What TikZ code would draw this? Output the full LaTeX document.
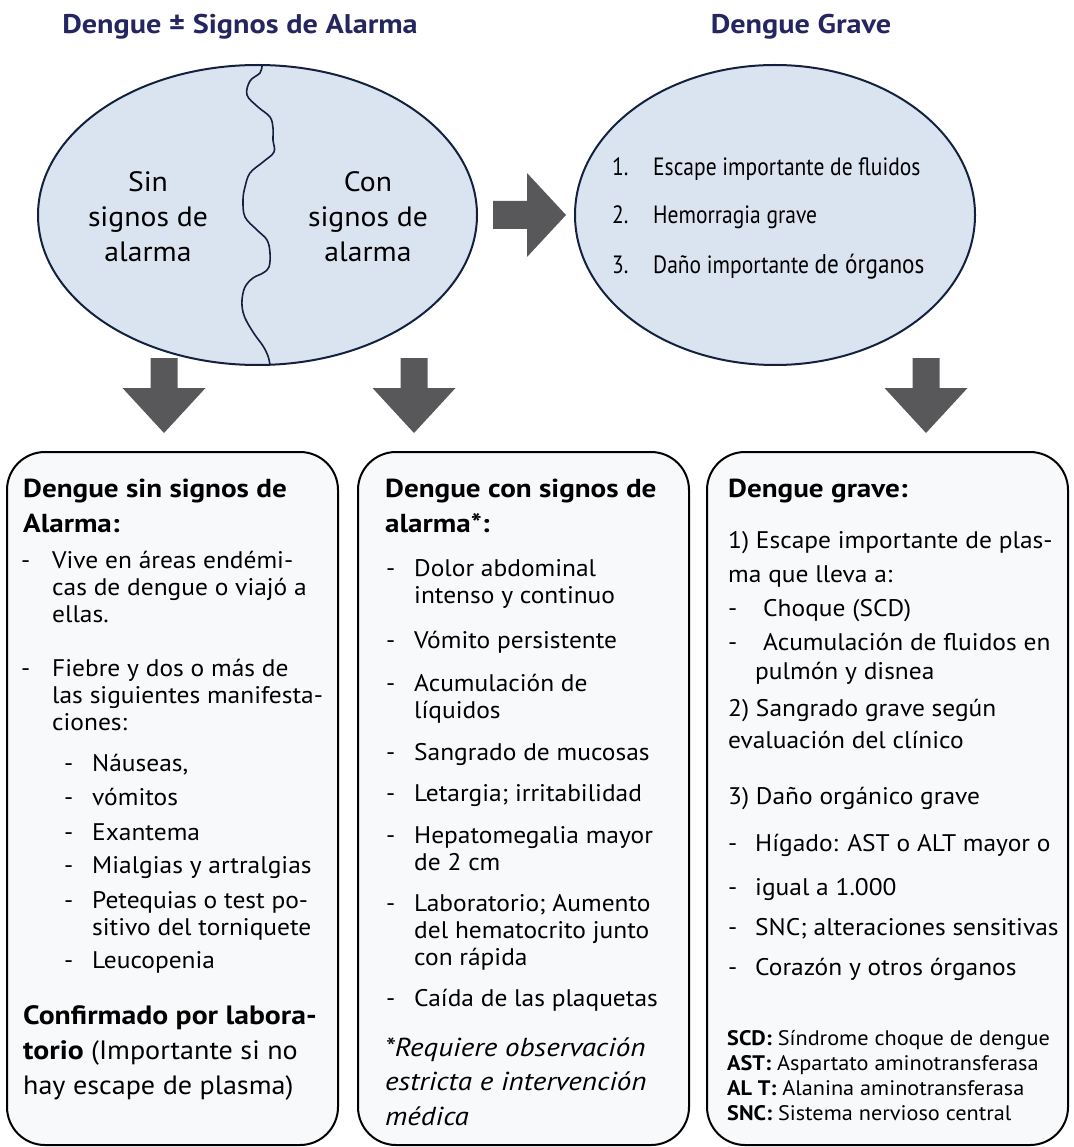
\documentclass[tikz,border=0pt]{standalone}
\usepackage{fontspec}
\setmainfont{PT Sans}[FakeStretch=1.06]
\newfontfamily\headfont{PT Sans}[FakeStretch=1.12]
\newfontfamily\condfont{PT Sans}[FakeStretch=0.86]
\usetikzlibrary{shapes.geometric}
\definecolor{navy}{RGB}{37,38,96}
\definecolor{ellfill}{RGB}{218,228,240}
\definecolor{ellline}{RGB}{19,33,63}
\definecolor{arrfill}{RGB}{88,88,90}
\definecolor{boxfill}{RGB}{248,249,251}
\tikzset{
  hd/.style={anchor=base, inner sep=0pt, text=navy, font=\headfont\fontsize{27}{30}\selectfont\bfseries},
  ell/.style={ellipse, draw=ellline, fill=ellfill, line width=2pt, inner sep=0pt},
  bx/.style={draw=black, fill=boxfill, line width=2pt, rounded corners=38pt, inner sep=0pt},
  tx/.style={anchor=base west, inner sep=0pt, font=\fontsize{24}{27}\selectfont},
  bt/.style={anchor=base west, inner sep=0pt, font=\headfont\fontsize{26}{30}\selectfont\bfseries},
  big/.style={anchor=base west, inner sep=0pt, font=\fontsize{26.5}{30}\selectfont},
  itx/.style={anchor=base west, inner sep=0pt, font=\headfont\fontsize{26}{28}\selectfont\itshape},
  lg/.style={anchor=base west, inner sep=0pt, font=\fontsize{21}{23}\selectfont},
  et/.style={anchor=base, inner sep=0pt, font=\fontsize{28}{33}\selectfont},
  ct/.style={anchor=base west, inner sep=0pt, font=\condfont\fontsize{25}{30}\selectfont},
  downarr/.pic={\fill[arrfill] (-13.5,0) -- (13.5,0) -- (13.5,30) -- (41.5,30) -- (0,75) -- (-41.5,30) -- (-13.5,30) -- cycle;},
  rightarr/.pic={\fill[arrfill] (0,-14) -- (34,-14) -- (34,-42) -- (73,0) -- (34,42) -- (34,14) -- (0,14) -- cycle;}
}
\begin{document}
\begin{tikzpicture}[x=1pt,y=-1pt]
\useasboundingbox (0,0) rectangle (1073,1147);
% titles
\node[hd] (h1) at (240,34) {Dengue ± Signos de Alarma};
\node[hd] (h2) at (801,34) {Dengue Grave};
% ellipses
\node[ell, minimum width=439pt, minimum height=300pt] (e1) at (257.5,215) {};
\node[ell, minimum width=400pt, minimum height=300pt] (e2) at (775,215) {};
\draw[ellline, line width=1.6pt] plot[smooth, tension=0.6] coordinates {(262,66) (260,73) (250,81) (247,95) (258,107) (270,117) (273,128) (273,140) (274,152) (263,162) (250,173) (245,187) (243,200) (245,217) (257,230) (267,240) (270,253) (269,267) (263,273) (253,278) (245,287) (242,300) (243,312) (247,322) (255,335) (263,346) (268,356) (270,365)};
\node[et] (s1) at (148,192) {Sin};
\node[et] (s2) at (148,227) {signos de};
\node[et] (s3) at (148,262) {alarma};
\node[et] (c1) at (368,192) {Con};
\node[et] (c2) at (368,227) {signos de};
\node[et] (c3) at (368,262) {alarma};
\node[ct] (n1) at (612,176) {1.};
\node[ct] (g1) at (653,176) {Escape importante de fluidos};
\node[ct] (n2) at (612,224) {2.};
\node[ct] (g2) at (653,224) {Hemorragia grave};
\node[ct] (n3) at (612,273) {3.};
\node[ct] (g3) at (653,273) {Daño importante {\fontsize{27}{30}\selectfont de órganos}};
% arrows
\pic at (493,215) {rightarr};
\pic at (164,358) {downarr};
\pic at (414,358) {downarr};
\pic at (926,358) {downarr};
% boxes
\node[bx, minimum width=331pt, minimum height=693pt] (b1) at (172.5,798.5) {};
\node[bx, minimum width=331pt, minimum height=693pt] (b2) at (523.5,798.5) {};
\node[bx, minimum width=361pt, minimum height=693pt] (b3) at (887.5,798.5) {};
% left box text
\node[bt] (l0) at (23,497) {Dengue sin signos de};
\node[bt] (l1) at (23,532) {Alarma:};
\node[tx] (ld1) at (21,568) {-};
\node[tx] (l2) at (52,568) {Vive en áreas endémi-};
\node[tx] (l3) at (52,595) {cas de dengue o viajó a};
\node[tx] (l4) at (52,622) {ellas.};
\node[tx] (ld2) at (21,676) {-};
\node[tx] (l5) at (52,676) {Fiebre y dos o más de};
\node[tx] (l6) at (52,703) {las siguientes manifesta-};
\node[tx] (l7) at (52,730) {ciones:};
\node[tx] (ld3) at (64,771) {-};
\node[tx] (l8) at (92,771) {Náuseas,};
\node[tx] (ld4) at (64,805) {-};
\node[tx] (l9) at (92,805) {vómitos};
\node[tx] (ld5) at (64,840) {-};
\node[tx] (l10) at (92,840) {Exantema};
\node[tx] (ld6) at (64,873) {-};
\node[tx] (l11) at (92,873) {Mialgias y artralgias};
\node[tx] (ld7) at (64,908) {-};
\node[tx] (l12) at (92,908) {Petequias o test po-};
\node[tx] (l13) at (92,935) {sitivo del torniquete};
\node[tx] (ld8) at (64,968) {-};
\node[tx] (l14) at (92,968) {Leucopenia};
\node[big] (l15) at (23,1024) {\headfont\bfseries Confirmado por labora-};
\node[big] (l16) at (23,1059) {{\headfont\bfseries torio} (Importante si no};
\node[big] (l17) at (23,1094) {hay escape de plasma)};
% middle box text
\node[bt] (m0) at (385,497) {Dengue con signos de};
\node[bt] (m1) at (385,532) {alarma*:};
\node[tx] (md1) at (386,576) {-};
\node[tx] (m2) at (414,576) {Dolor abdominal};
\node[tx] (m3) at (414,603) {intenso y continuo};
\node[tx] (md2) at (386,648) {-};
\node[tx] (m4) at (414,648) {Vómito persistente};
\node[tx] (md3) at (386,691) {-};
\node[tx] (m5) at (414,691) {Acumulación de};
\node[tx] (m6) at (414,718) {líquidos};
\node[tx] (md4) at (386,760) {-};
\node[tx] (m7) at (414,760) {Sangrado de mucosas};
\node[tx] (md5) at (386,801) {-};
\node[tx] (m8) at (414,801) {Letargia; irritabilidad};
\node[tx] (md6) at (386,843) {-};
\node[tx] (m9) at (414,843) {Hepatomegalia mayor};
\node[tx] (m10) at (414,870) {de 2 cm};
\node[tx] (md7) at (386,911) {-};
\node[tx] (m11) at (414,911) {Laboratorio; Aumento};
\node[tx] (m12) at (414,938) {del hematocrito junto};
\node[tx] (m13) at (414,965) {con rápida};
\node[tx] (md8) at (386,1006) {-};
\node[tx] (m14) at (414,1006) {Caída de las plaquetas};
\node[itx] (m15) at (385,1056) {*Requiere observación};
\node[itx] (m16) at (385,1090) {estricta e intervención};
\node[itx] (m17) at (385,1125) {médica};
% right box text
\node[bt] (r0) at (728,497) {Dengue grave:};
\node[tx] (r1) at (728,548) {1) Escape importante de plas-};
\node[tx] (r2) at (728,582) {ma que lleva a:};
\node[tx] (rd1) at (728,616) {-};
\node[tx] (r3) at (763,616) {Choque (SCD)};
\node[tx] (rd2) at (728,650) {-};
\node[tx] (r4) at (763,650) {Acumulación de fluidos en};
\node[tx] (r5) at (755,679) {pulmón y disnea};
\node[tx] (r6) at (728,716) {2) Sangrado grave según};
\node[tx] (r7) at (728,748) {evaluación del clínico};
\node[tx] (r8) at (728,804) {3) Daño orgánico grave};
\node[tx] (rd3) at (728,851) {-};
\node[tx] (r9) at (755,851) {Hígado: AST o ALT mayor o};
\node[tx] (rd4) at (728,895) {-};
\node[tx] (r10) at (755,895) {igual a 1.000};
\node[tx] (rd5) at (728,935) {-};
\node[tx] (r11) at (755,935) {SNC; alteraciones sensitivas};
\node[tx] (rd6) at (728,975) {-};
\node[tx] (r12) at (755,975) {Corazón y otros órganos};
\node[lg] (k1) at (727,1045) {\textbf{SCD:} Síndrome choque de dengue};
\node[lg] (k2) at (727,1070) {\textbf{AST:} Aspartato aminotransferasa};
\node[lg] (k3) at (727,1095) {\textbf{AL T:} Alanina aminotransferasa};
\node[lg] (k4) at (727,1120) {\textbf{SNC:} Sistema nervioso central};
\end{tikzpicture}
\end{document}
